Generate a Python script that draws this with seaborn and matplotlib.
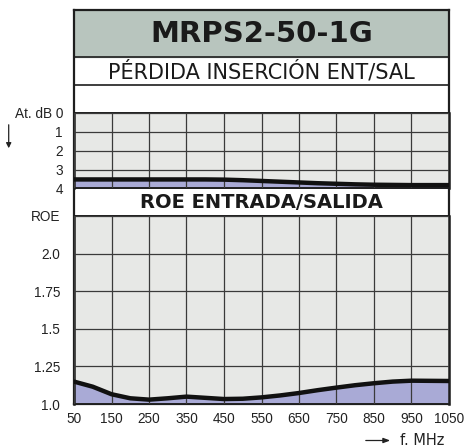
import numpy as np
import pandas as pd
import matplotlib
matplotlib.use("Agg")
import matplotlib.pyplot as plt
import seaborn as sns

# --- Data ---
FREQ_MHZ = [50, 100, 150, 200, 250, 300, 350, 400, 450, 500, 550,
            600, 650, 700, 750, 800, 850, 900, 950, 1000, 1050]
ROE_VALUES = [1.149, 1.115, 1.065, 1.038, 1.029, 1.038, 1.049, 1.041, 1.033, 1.035, 1.044,
              1.057, 1.073, 1.092, 1.109, 1.125, 1.138, 1.149, 1.155, 1.154, 1.153]
IL_VALUES = [3.52, 3.52, 3.52, 3.52, 3.52, 3.52, 3.52, 3.52, 3.53, 3.56, 3.60,
             3.64, 3.68, 3.72, 3.75, 3.78, 3.80, 3.81, 3.82, 3.82, 3.82]

X_TICKS = list(range(50, 1051, 100))
IL_TICKS = [0, 1, 2, 3, 4]
IL_TICK_LABELS = ["At. dB 0", "1", "2", "3", "4"]
ROE_TICKS = [1.0, 1.25, 1.5, 1.75, 2.0, 2.25]
ROE_TICK_LABELS = ["1.0", "1.25", "1.5", "1.75", "2.0", "ROE"]

TITLE = "MRPS2-50-1G"
IL_HEADER = "PÉRDIDA INSERCIÓN ENT/SAL"
ROE_HEADER = "ROE ENTRADA/SALIDA"

# --- Style ---
W, H = 467, 447
TITLE_BG = "#b8c5be"
GRID_BG = "#e7e8e6"
FILL = "#a9aad6"
DARK = "#1e1e1e"
GRID = "#3a3a3a"
WIDE_FONT = ["DejaVu Sans"]

sns.set_style("white")
plt.rcParams["font.family"] = ["Liberation Sans", "DejaVu Sans"]

df = pd.DataFrame({"freq": FREQ_MHZ, "roe": ROE_VALUES, "il": IL_VALUES})


def box(x0, y0, x1, y1):
    # pixel box (top-left origin) -> figure fraction rect
    return [x0 / W, 1 - y1 / H, (x1 - x0) / W, (y1 - y0) / H]


fig = plt.figure(figsize=(W / 100, H / 100), dpi=100)

# outer frame with header bands
frame = fig.add_axes(box(74, 10, 449, 404))
frame.set_xlim(0, 1)
frame.set_ylim(404, 10)
frame.axhspan(10, 57, color=TITLE_BG, zorder=0)
frame.axhline(57, color=DARK, lw=1.2)
frame.axhline(85, color=DARK, lw=1.2)
frame.set_xticks([])
frame.set_yticks([])
for s in frame.spines.values():
    s.set_color(DARK)
    s.set_linewidth(1.6)
frame.text(0.5, 34.5, TITLE, ha="center", va="center", fontsize=21,
           fontweight="bold", color="#1a1a1a", family=WIDE_FONT)
frame.text(0.5, 72, IL_HEADER, ha="center", va="center", fontsize=15,
           color="#1a1a1a", family=WIDE_FONT)
frame.text(0.5, 203, ROE_HEADER, ha="center", va="center", fontsize=14,
           fontweight="bold", color="#1a1a1a", family=WIDE_FONT)


def style_grid_axes(ax):
    ax.set_facecolor(GRID_BG)
    ax.set_axisbelow(False)
    ax.grid(True, color=GRID, lw=0.9)
    ax.set_xlim(50, 1050)
    ax.set_xticks(X_TICKS)
    ax.tick_params(length=0, labelsize=9.8, colors="#222222")
    for s in ax.spines.values():
        s.set_color(DARK)
        s.set_linewidth(1.4)
    ax.spines["left"].set_linewidth(1.8)
    ax.spines["right"].set_linewidth(1.8)
    ax.set_xlabel("")
    ax.set_ylabel("")


# insertion loss panel
ax_il = fig.add_axes(box(74, 113, 449, 188.5))
ax_il.fill_between(df["freq"], df["il"], 4, color=FILL, lw=0, zorder=1)
sns.lineplot(data=df, x="freq", y="il", ax=ax_il, color="#111111", lw=3.2, zorder=4)
style_grid_axes(ax_il)
ax_il.set_ylim(4, 0)
ax_il.set_yticks(IL_TICKS)
ax_il.set_yticklabels(IL_TICK_LABELS)
ax_il.set_xticklabels([])
ax_il.tick_params(axis="y", pad=8)

# ROE panel
ax_roe = fig.add_axes(box(74, 216, 449, 404))
ax_roe.fill_between(df["freq"], 1.0, df["roe"], color=FILL, lw=0, zorder=1)
sns.lineplot(data=df, x="freq", y="roe", ax=ax_roe, color="#111111", lw=3.2, zorder=4)
style_grid_axes(ax_roe)
ax_roe.set_ylim(1.0, 2.25)
ax_roe.set_yticks(ROE_TICKS)
ax_roe.set_yticklabels(ROE_TICK_LABELS)
ax_roe.set_xticklabels([str(t) for t in X_TICKS])
ax_roe.tick_params(axis="y", pad=10)
ax_roe.tick_params(axis="x", pad=6)

# axis direction arrows
fig.add_artist(matplotlib.patches.FancyArrowPatch(
    (8.7 / W, 1 - 122 / H), (8.7 / W, 1 - 151 / H), transform=fig.transFigure,
    arrowstyle="-|>,head_length=3,head_width=1.5", lw=0.9, color="#222222"))
fig.add_artist(matplotlib.patches.FancyArrowPatch(
    (363 / W, 1 - 440.5 / H), (393 / W, 1 - 440.5 / H), transform=fig.transFigure,
    arrowstyle="-|>,head_length=4,head_width=1.5", lw=0.9, color="#222222"))
fig.text(400 / W, 1 - 440.5 / H, "f. MHz", ha="left", va="center", fontsize=10.5,
         color="#222222", family=WIDE_FONT)

fig.savefig("out.png", dpi=100)
